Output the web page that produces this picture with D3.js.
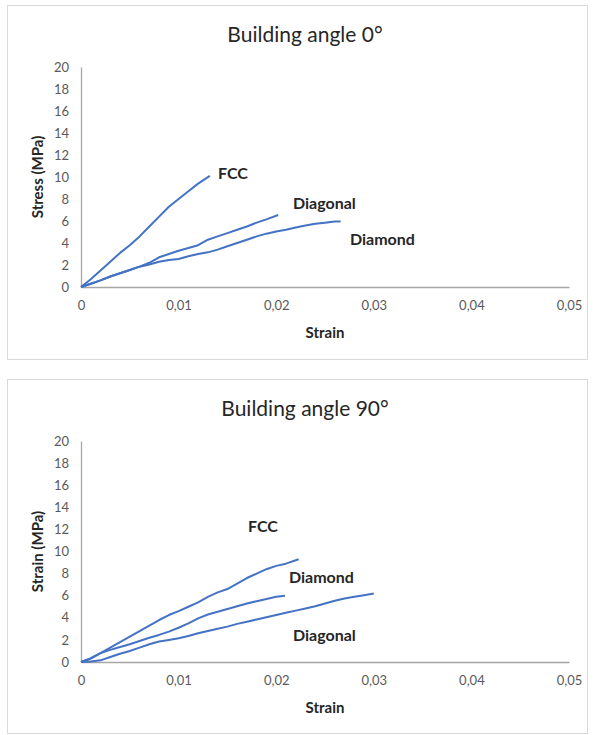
<!DOCTYPE html>
<html>
<head>
<meta charset="utf-8">
<script src="https://cdn.jsdelivr.net/npm/d3@7"></script>
<style>
  body { margin: 0; background: #fff; }
  svg { display: block; font-family: Lato, 'Open Sans', sans-serif; }
</style>
</head>
<body>
<svg id="chart" width="595" height="735"></svg>
<script>
const width = 595;
const height = 735;

// strain values shared by the curves are listed per series
const fcc0Strain = [0, 0.001, 0.002, 0.003, 0.004, 0.005, 0.006, 0.007, 0.008, 0.009, 0.010, 0.011, 0.012, 0.0132];
const fcc0Stress = [0, 0.7, 1.5, 2.3, 3.1, 3.8, 4.6, 5.5, 6.4, 7.3, 8.0, 8.7, 9.4, 10.1];

const diag0Strain = [0, 0.001, 0.002, 0.003, 0.004, 0.005, 0.006, 0.007, 0.008, 0.009, 0.010, 0.011, 0.012, 0.013, 0.014, 0.015, 0.016, 0.017, 0.018, 0.019, 0.0202];
const diag0Stress = [0, 0.3, 0.6, 0.95, 1.25, 1.55, 1.85, 2.2, 2.7, 3.0, 3.3, 3.55, 3.8, 4.3, 4.6, 4.9, 5.2, 5.5, 5.85, 6.15, 6.55];

const diam0Strain = [0, 0.001, 0.002, 0.003, 0.004, 0.005, 0.006, 0.007, 0.008, 0.009, 0.010, 0.011, 0.012, 0.013, 0.014, 0.015, 0.016, 0.017, 0.018, 0.019, 0.020, 0.021, 0.022, 0.023, 0.024, 0.025, 0.026, 0.0266];
const diam0Stress = [0, 0.3, 0.6, 0.95, 1.25, 1.55, 1.85, 2.05, 2.3, 2.45, 2.55, 2.8, 3.0, 3.15, 3.4, 3.7, 4.0, 4.3, 4.6, 4.85, 5.05, 5.2, 5.4, 5.6, 5.75, 5.85, 5.95, 5.95];

const fcc90Strain = [0, 0.001, 0.002, 0.003, 0.004, 0.005, 0.006, 0.007, 0.008, 0.009, 0.010, 0.011, 0.012, 0.013, 0.014, 0.015, 0.016, 0.017, 0.018, 0.019, 0.020, 0.021, 0.0223];
const fcc90Stress = [0, 0.3, 0.8, 1.3, 1.8, 2.3, 2.8, 3.3, 3.8, 4.25, 4.6, 5.0, 5.4, 5.9, 6.3, 6.6, 7.1, 7.6, 8.0, 8.4, 8.7, 8.9, 9.3];

const diam90Strain = [0, 0.001, 0.002, 0.003, 0.004, 0.005, 0.006, 0.007, 0.008, 0.009, 0.010, 0.011, 0.012, 0.013, 0.014, 0.015, 0.016, 0.017, 0.018, 0.019, 0.020, 0.0209];
const diam90Stress = [0, 0.35, 0.8, 1.1, 1.35, 1.6, 1.9, 2.2, 2.45, 2.75, 3.1, 3.5, 3.95, 4.3, 4.55, 4.8, 5.05, 5.3, 5.5, 5.7, 5.9, 6.0];

const diag90Strain = [0, 0.001, 0.002, 0.003, 0.004, 0.005, 0.006, 0.007, 0.008, 0.009, 0.010, 0.011, 0.012, 0.013, 0.014, 0.015, 0.016, 0.017, 0.018, 0.019, 0.020, 0.021, 0.022, 0.023, 0.024, 0.025, 0.026, 0.027, 0.028, 0.029, 0.030];
const diag90Stress = [0, 0.05, 0.15, 0.45, 0.75, 1.0, 1.3, 1.6, 1.85, 2.0, 2.15, 2.35, 2.6, 2.8, 3.0, 3.2, 3.45, 3.65, 3.85, 4.05, 4.25, 4.45, 4.65, 4.85, 5.05, 5.3, 5.55, 5.75, 5.9, 6.05, 6.2];

const xTicks = [0, 0.01, 0.02, 0.03, 0.04, 0.05];
const yTicks = [0, 2, 4, 6, 8, 10, 12, 14, 16, 18, 20];

const titles = ['Building angle 0°', 'Building angle 90°'];
const yTitles = ['Stress (MPa)', 'Strain (MPa)'];

const zip = (xs, ys) => xs.map((x, i) => ({x, y: ys[i]}));

const panels = [
  {
    top: 5, bottom: 359, plotTop: 67, plotBottom: 287, titleY: 33,
    title: titles[0], yTitle: yTitles[0],
    series: [
      {name: 'FCC', points: zip(fcc0Strain, fcc0Stress), lx: 218, ly: 172},
      {name: 'Diagonal', points: zip(diag0Strain, diag0Stress), lx: 293, ly: 202},
      {name: 'Diamond', points: zip(diam0Strain, diam0Stress), lx: 350, ly: 238}
    ]
  },
  {
    top: 379, bottom: 733, plotTop: 441, plotBottom: 662, titleY: 407,
    title: titles[1], yTitle: yTitles[1],
    series: [
      {name: 'FCC', points: zip(fcc90Strain, fcc90Stress), lx: 248, ly: 525},
      {name: 'Diamond', points: zip(diam90Strain, diam90Stress), lx: 289, ly: 576},
      {name: 'Diagonal', points: zip(diag90Strain, diag90Stress), lx: 293, ly: 634}
    ]
  }
];

const locale = d3.formatLocale({decimal: ',', thousands: '.', grouping: [3], currency: ['', '']});
const fmtX = d => d === 0 ? '0' : locale.format('.2f')(d);

const svg = d3.select('#chart');
const left = 81, right = 569;

panels.forEach(p => {
  const g = svg.append('g');

  g.append('rect')
    .attr('x', 7.5).attr('y', p.top + 0.5)
    .attr('width', 580).attr('height', p.bottom - p.top)
    .attr('fill', '#fff').attr('stroke', '#d9d9d9');

  const x = d3.scaleLinear().domain([0, 0.05]).range([left, right]);
  const y = d3.scaleLinear().domain([0, 20]).range([p.plotBottom, p.plotTop]);

  const xAxis = g.append('g').attr('transform', `translate(0, ${p.plotBottom})`)
    .call(d3.axisBottom(x).tickValues(xTicks).tickFormat(fmtX).tickSize(0).tickPadding(14));
  const yAxis = g.append('g').attr('transform', `translate(${left}, 0)`)
    .call(d3.axisLeft(y).tickValues(yTicks).tickSize(0).tickPadding(12));

  [xAxis, yAxis].forEach(a => {
    a.select('.domain').attr('stroke', '#a6a6a6').attr('stroke-width', 1.3);
    a.selectAll('text').attr('fill', '#595959').style('font-size', '13px').style('font-family', 'Lato, sans-serif');
  });

  g.append('text')
    .attr('x', 305).attr('y', p.titleY)
    .attr('text-anchor', 'middle').attr('dominant-baseline', 'central')
    .attr('fill', '#262626').style('font-size', '21px')
    .text(p.title);

  g.append('text')
    .attr('x', (left + right) / 2).attr('y', p.plotBottom + 45)
    .attr('text-anchor', 'middle').attr('dominant-baseline', 'central')
    .attr('fill', '#262626').style('font-size', '15px').style('font-weight', 'bold')
    .text('Strain');

  g.append('text')
    .attr('transform', `translate(37, ${(p.plotTop + p.plotBottom) / 2}) rotate(-90)`)
    .attr('text-anchor', 'middle').attr('dominant-baseline', 'central')
    .attr('fill', '#262626').style('font-size', '15px').style('font-weight', 'bold')
    .text(p.yTitle);

  const line = d3.line().x(d => x(d.x)).y(d => y(d.y));

  p.series.forEach(s => {
    g.append('path')
      .datum(s.points)
      .attr('fill', 'none')
      .attr('stroke', '#4472c4')
      .attr('stroke-width', 2)
      .attr('stroke-linejoin', 'round')
      .attr('d', line);

    g.append('text')
      .attr('x', s.lx).attr('y', s.ly)
      .attr('dominant-baseline', 'central')
      .attr('fill', '#262626').style('font-size', '16px').style('font-weight', 'bold')
      .text(s.name);
  });
});
</script>
</body>
</html>
